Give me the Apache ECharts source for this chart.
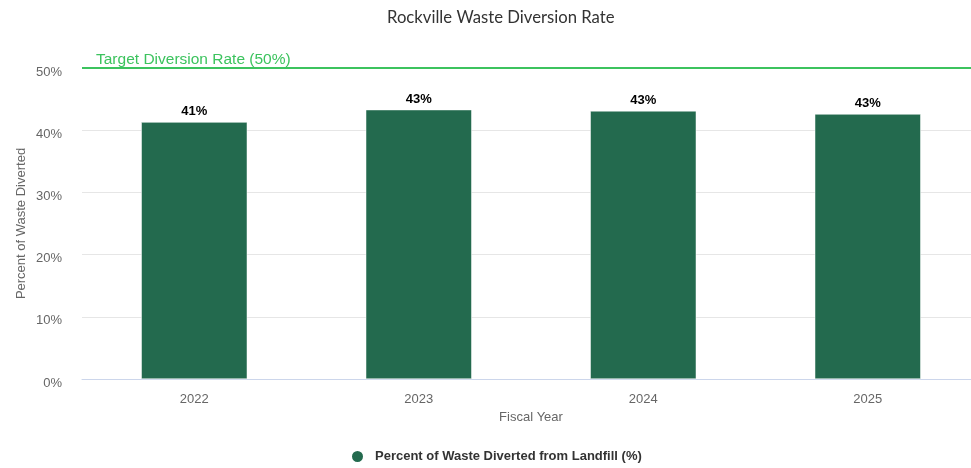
<!DOCTYPE html>
<html>
<head>
<meta charset="utf-8">
<script src="https://cdn.jsdelivr.net/npm/echarts@6/dist/echarts.min.js"></script>
<style>
  html, body { margin: 0; padding: 0; background: #fff; overflow: hidden; }
  #chart { width: 980px; height: 468px; }
</style>
</head>
<body>
<div id="chart"></div>
<script>
// Fiscal years and diversion rate (%) per year
const fiscalYears = ['2022', '2023', '2024', '2025'];
const diversionRates = [41.3, 43.3, 43.1, 42.6];
const targetRate = 50;
const yTicks = [0, 10, 20, 30, 40, 50];

const chart = echarts.init(document.getElementById('chart'));
const sans = 'Liberation Sans, Arial, sans-serif';

chart.setOption({
  animation: false,
  title: {
    text: 'Rockville Waste Diversion Rate',
    left: 382,
    top: 4,
    textStyle: { fontFamily: 'Lato, sans-serif', fontSize: 16.7, fontWeight: 'normal', color: '#333' }
  },
  legend: {
    top: 444,
    left: 345,
    icon: 'circle',
    itemWidth: 13,
    itemHeight: 13,
    textStyle: { fontFamily: sans, fontSize: 13, fontWeight: 'bold', color: '#333', padding: [0, 0, 0, 6] }
  },
  grid: { left: 82, right: 0, top: 68, bottom: 89, containLabel: false },
  xAxis: {
    type: 'category',
    data: fiscalYears,
    name: 'Fiscal Year',
    nameLocation: 'middle',
    nameGap: 32,
    nameTextStyle: { fontFamily: sans, fontSize: 13, color: '#666' },
    axisLine: { lineStyle: { color: '#ccd6eb', width: 1 } },
    axisTick: { show: false },
    axisLabel: { fontFamily: sans, fontSize: 13, color: '#666', margin: 14 }
  },
  yAxis: {
    type: 'value',
    min: yTicks[0],
    max: yTicks[yTicks.length - 1],
    interval: 10,
    name: 'Percent of Waste Diverted',
    nameLocation: 'middle',
    nameGap: 54,
    nameMoveOverlap: false,
    nameTextStyle: { fontFamily: sans, fontSize: 13, color: '#666' },
    axisLine: { show: false },
    axisTick: { show: false },
    splitLine: { lineStyle: { color: '#e6e6e6' } },
    axisLabel: { fontFamily: sans, fontSize: 13, color: '#666', margin: 20, formatter: '{value}%',
      verticalAlign: 'top', lineHeight: 8 }
  },
  series: [{
    name: 'Percent of Waste Diverted from Landfill (%)',
    type: 'bar',
    data: diversionRates,
    barWidth: 106,
    itemStyle: { color: '#236a4e', borderColor: '#fff', borderWidth: 0.5 },
    label: {
      show: true,
      position: 'top',
      distance: 4,
      fontFamily: sans,
      fontSize: 13,
      fontWeight: 'bold',
      color: '#000',
      formatter: p => Math.round(p.value) + '%'
    },
    markLine: {
      silent: true,
      symbol: 'none',
      data: [{ yAxis: targetRate }],
      lineStyle: { color: '#3cc35e', width: 2, type: 'solid' },
      label: {
        position: 'insideStartTop',
        formatter: 'Target Diversion Rate (' + targetRate + '%)',
        fontFamily: sans,
        fontSize: 15.5,
        color: '#3cc35e',
        distance: [14, 0]
      }
    }
  }]
});
</script>
</body>
</html>
